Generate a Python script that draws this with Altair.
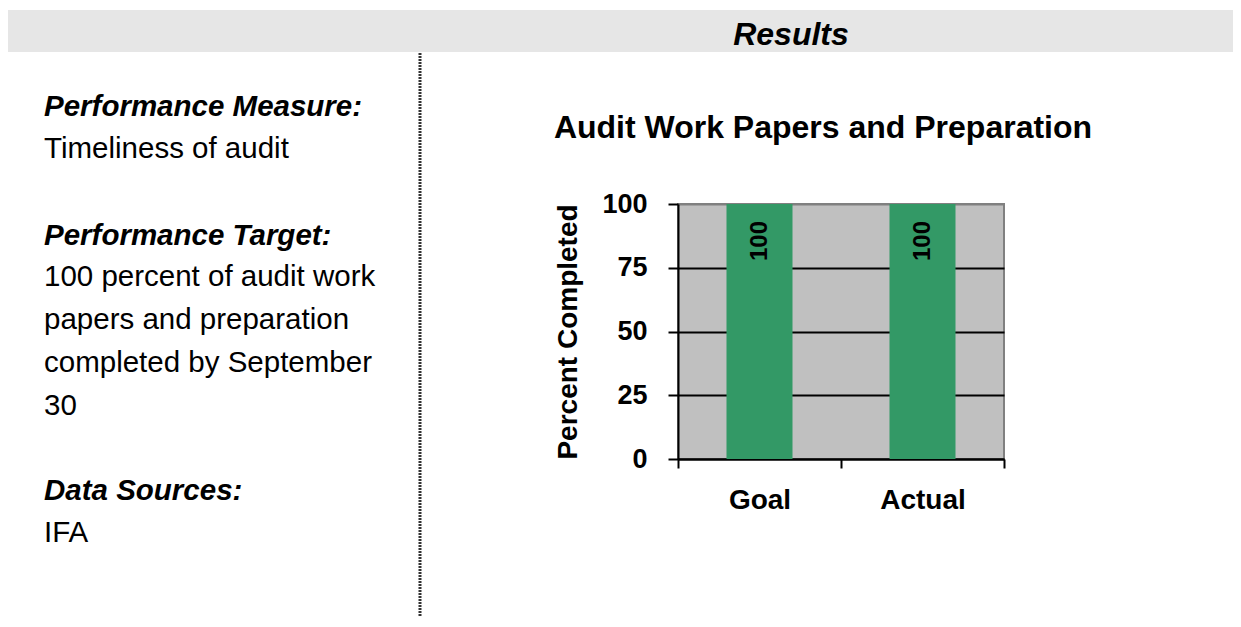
import altair as alt
import pandas as pd

# ---- data ----
categories = ["Goal", "Actual"]
values = [100, 100]
y_ticks = [0, 25, 50, 75, 100]

header_text = "Results"
chart_title = "Audit Work Papers and Preparation"
y_title = "Percent Completed"

heading_measure = "Performance Measure:"
body_measure = ["Timeliness of audit"]
heading_target = "Performance Target:"
body_target = ["100 percent of audit work", "papers and preparation",
               "completed by September", "30"]
heading_sources = "Data Sources:"
body_sources = ["IFA"]

df = pd.DataFrame({"category": categories, "value": values})

# ---- layout (page pixels) ----
W, H = 326, 255          # plot area
OX, OY = 678, 204        # plot origin on the page
SVG_W, SVG_H = 1225, 608
FONT = "Liberation Sans"

one = alt.Data(values=[{"k": 1}])


def txt(s, px, py, size, bold=False, italic=False, align="left"):
    return alt.Chart(one).mark_text(
        text=s, font=FONT, fontSize=size,
        fontWeight="bold" if bold else "normal",
        fontStyle="italic" if italic else "normal",
        align=align, baseline="middle", color="black",
    ).encode(x=alt.value(px - OX), y=alt.value(py - OY))


header = alt.Chart(one).mark_rect(color="#E6E6E6").encode(
    x=alt.value(8 - OX), x2=alt.value(8 + SVG_W - OX),
    y=alt.value(10 - OY), y2=alt.value(52 - OY))

divider = alt.Chart(one).mark_rule(
    color="#333333", strokeWidth=3, strokeDash=[2, 1]).encode(
    x=alt.value(420 - OX), y=alt.value(53 - OY), y2=alt.value(8 + SVG_H - OY))

texts = [
    txt(header_text, 791, 35, 32, bold=True, italic=True, align="center"),
    txt(chart_title, 823, 128, 32, bold=True, align="center"),
    txt(heading_measure, 44, 107, 29.5, bold=True, italic=True),
    txt(body_measure[0], 44, 149, 29.5),
    txt(heading_target, 44, 236, 29.5, bold=True, italic=True),
]
for i, line in enumerate(body_target):
    texts.append(txt(line, 44, 277 + i * 43, 29.5))
texts.append(txt(heading_sources, 44, 491, 29.5, bold=True, italic=True))
texts.append(txt(body_sources[0], 44, 533, 29.5))

x_enc = alt.X(
    "category:N", sort=categories,
    scale=alt.Scale(paddingInner=0, paddingOuter=0),
    axis=alt.Axis(
        title=None, labelAngle=0, labelFont=FONT, labelFontSize=28,
        labelFontWeight="bold", labelColor="black", labelPadding=18,
        tickBand="extent", tickSize=9, tickWidth=2, tickColor="black",
        domainColor="black", domainWidth=2, grid=False))

y_enc = alt.Y(
    "value:Q", scale=alt.Scale(domain=[0, 100], nice=False),
    axis=alt.Axis(
        values=y_ticks, title=y_title, titleFont=FONT, titleFontSize=28,
        titleFontWeight="bold", titleColor="black", titleAngle=270,
        titleX=-102, titleY=H / 2, titleAlign="center",
        titleBaseline="alphabetic",
        labelFont=FONT, labelFontSize=27, labelFontWeight="bold",
        labelColor="black", labelPadding=21,
        tickSize=10, tickWidth=2, tickColor="black",
        domainColor="black", domainWidth=2,
        gridColor={"condition": {"test": "datum.value === 100", "value": "#808080"},
                   "value": "black"},
        gridWidth=2, gridOpacity=1))

bars = alt.Chart(df).mark_bar(
    color="#339966", width=alt.RelativeBandSize(0.405)).encode(x=x_enc, y=y_enc)

bar_labels = alt.Chart(df).mark_text(
    angle=270, align="right", baseline="middle", dx=-17,
    font=FONT, fontSize=24, fontWeight="bold", color="black").encode(
    x=alt.X("category:N", sort=categories),
    y=alt.Y("value:Q"), text=alt.Text("value:Q"))

chart = alt.layer(header, divider, bars, bar_labels, *texts).properties(
    width=W, height=H,
    background="white",
    autosize=alt.AutoSizeParams(type="none"),
    padding={"left": OX - 8, "top": OY - 8,
             "right": SVG_W - (OX - 8) - W,
             "bottom": SVG_H - (OY - 8) - H},
).configure_view(fill="#C0C0C0", stroke="#808080", strokeWidth=2)

chart.save("out.html", embed_options={"renderer": "svg", "actions": False})
